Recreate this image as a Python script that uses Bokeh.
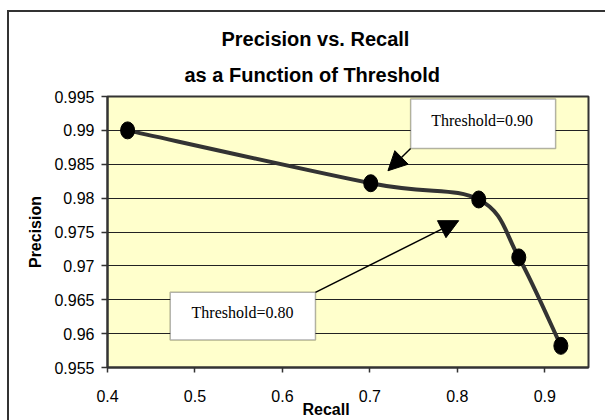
from bokeh.plotting import figure
from bokeh.models import (FixedTicker, BoxAnnotation, Label, Arrow, NormalHead,
                          Range1d, ColumnDataSource, Title, InlineStyleSheet)
from bokeh.embed import file_html
from bokeh.resources import INLINE

# ---- data ----
recall = [0.423, 0.701, 0.8245, 0.8703, 0.9184]
precision = [0.9900, 0.9822, 0.9798, 0.97125, 0.9582]

x_ticks = [0.4, 0.5, 0.6, 0.7, 0.8, 0.9]
x_tick_labels = ["0.4", "0.5", "0.6", "0.7", "0.8", "0.9"]
y_ticks = [0.955, 0.96, 0.965, 0.97, 0.975, 0.98, 0.985, 0.99, 0.995]
y_tick_labels = ["0.955", "0.96", "0.965", "0.97", "0.975", "0.98", "0.985", "0.99", "0.995"]

title_lines = ["Precision vs. Recall", "as a Function of Threshold"]
x_title = "Recall"
y_title = "Precision"
callout_texts = ["Threshold=0.90", "Threshold=0.80"]

W, H = 605, 420

p = figure(width=W, height=H, output_backend="svg", toolbar_location=None,
           x_range=Range1d(0.4, 0.95), y_range=Range1d(0.955, 0.995),
           min_border_left=107, min_border_right=17, min_border_top=96, min_border_bottom=53)

p.background_fill_color = "#FFFFCC"
p.border_fill_color = "white"
p.outline_line_color = "#333333"
p.outline_line_width = 2

# outer chart border (left and top edges visible in the reference)
p.stylesheets = [InlineStyleSheet(css=""":host::after { content: ""; position: absolute;
  left: 7px; top: 10px; right: 0; bottom: 0; border-left: 2px solid #333;
  border-top: 2px solid #333; pointer-events: none; z-index: 100; }""")]

# axes
p.xaxis.ticker = FixedTicker(ticks=x_ticks)
p.xaxis.major_label_overrides = dict(zip(x_ticks, x_tick_labels))
p.yaxis.ticker = FixedTicker(ticks=y_ticks)
p.yaxis.major_label_overrides = dict(zip(y_ticks, y_tick_labels))
for ax in (p.xaxis, p.yaxis):
    ax.axis_line_color = "#333333"
    ax.axis_line_width = 2
    ax.major_tick_in = 0
    ax.major_tick_line_color = "#333333"
    ax.major_tick_line_width = 1.5
    ax.minor_tick_line_color = None
    ax.major_label_text_font = "Liberation Sans"
    ax.major_label_text_font_size = "16px"
    ax.major_label_text_color = "black"
p.xaxis.major_tick_out = 5
p.yaxis.major_tick_out = 6
p.xaxis.major_label_standoff = 17
p.yaxis.major_label_standoff = 7
p.yaxis.axis_label = y_title
p.yaxis.axis_label_text_font = "Liberation Sans"
p.yaxis.axis_label_text_font_style = "bold"
p.yaxis.axis_label_text_font_size = "16px"
p.yaxis.axis_label_text_color = "black"
p.yaxis.axis_label_standoff = 7

p.xgrid.grid_line_color = None
p.ygrid.ticker = FixedTicker(ticks=y_ticks)
p.ygrid.grid_line_color = "#222222"
p.ygrid.grid_line_width = 1

# title (two lines) and x-axis title
p.title.text = ""
p.title.standoff = 0
p.add_layout(Title(text=title_lines[1], text_font="Liberation Sans",
                   text_font_style="bold", text_font_size="20px", align="left",
                   offset=77, standoff=22, text_color="black"), "above")
p.add_layout(Title(text=title_lines[0], text_font="Liberation Sans",
                   text_font_style="bold", text_font_size="20px", align="left",
                   offset=114, standoff=1, text_color="black"), "above")
p.add_layout(Title(text=x_title, text_font="Liberation Sans", text_font_style="bold",
                   text_font_size="16px", align="left", offset=195, standoff=-12,
                   text_color="black"), "below")

# smoothed line (Excel-style bezier through the data points)
pts = list(zip(recall, precision))
n = len(pts)
seg = dict(x0=[], y0=[], x1=[], y1=[], cx0=[], cy0=[], cx1=[], cy1=[])
for i in range(n - 1):
    pm = pts[i - 1] if i > 0 else pts[i]
    a = pts[i]
    b = pts[i + 1]
    pn = pts[i + 2] if i + 2 < n else pts[i + 1]
    seg["x0"].append(a[0]); seg["y0"].append(a[1])
    seg["x1"].append(b[0]); seg["y1"].append(b[1])
    seg["cx0"].append(a[0] + (b[0] - pm[0]) / 6); seg["cy0"].append(a[1] + (b[1] - pm[1]) / 6)
    seg["cx1"].append(b[0] - (pn[0] - a[0]) / 6); seg["cy1"].append(b[1] - (pn[1] - a[1]) / 6)
p.bezier(x0="x0", y0="y0", x1="x1", y1="y1", cx0="cx0", cy0="cy0", cx1="cx1", cy1="cy1",
         source=ColumnDataSource(seg), line_color="#333333", line_width=4, line_cap="round")

p.ellipse(x=recall, y=precision, width=14, height=17, width_units="screen",
          height_units="screen", fill_color="black", line_color="black")

# callouts
boxes = [(0.7466, 0.9124, 0.99462, 0.98733), (0.4717, 0.6378, 0.96609, 0.95907)]
text_pos = [(0.8284, 0.99142), (0.5544, 0.96305)]
arrows = [((0.7466, 0.98733), (0.7207, 0.98404)), ((0.6378, 0.96609), (0.8016, 0.97667))]
for (l, r, t, b), (tx, ty), (s, e), txt in zip(boxes, text_pos, arrows, callout_texts):
    p.add_layout(BoxAnnotation(left=l, right=r, top=t, bottom=b, fill_color="white",
                               fill_alpha=1, line_color="black", line_width=1.5))
    p.add_layout(Label(x=tx, y=ty, text=txt, text_font="Liberation Serif",
                       text_font_size="16px", text_align="center", text_baseline="middle",
                       text_color="black"))
    p.add_layout(Arrow(x_start=s[0], y_start=s[1], x_end=e[0], y_end=e[1],
                       line_color="black", line_width=1.5,
                       end=NormalHead(size=19, fill_color="black", line_color="black")))

open("out.html", "w").write(file_html(p, INLINE))
